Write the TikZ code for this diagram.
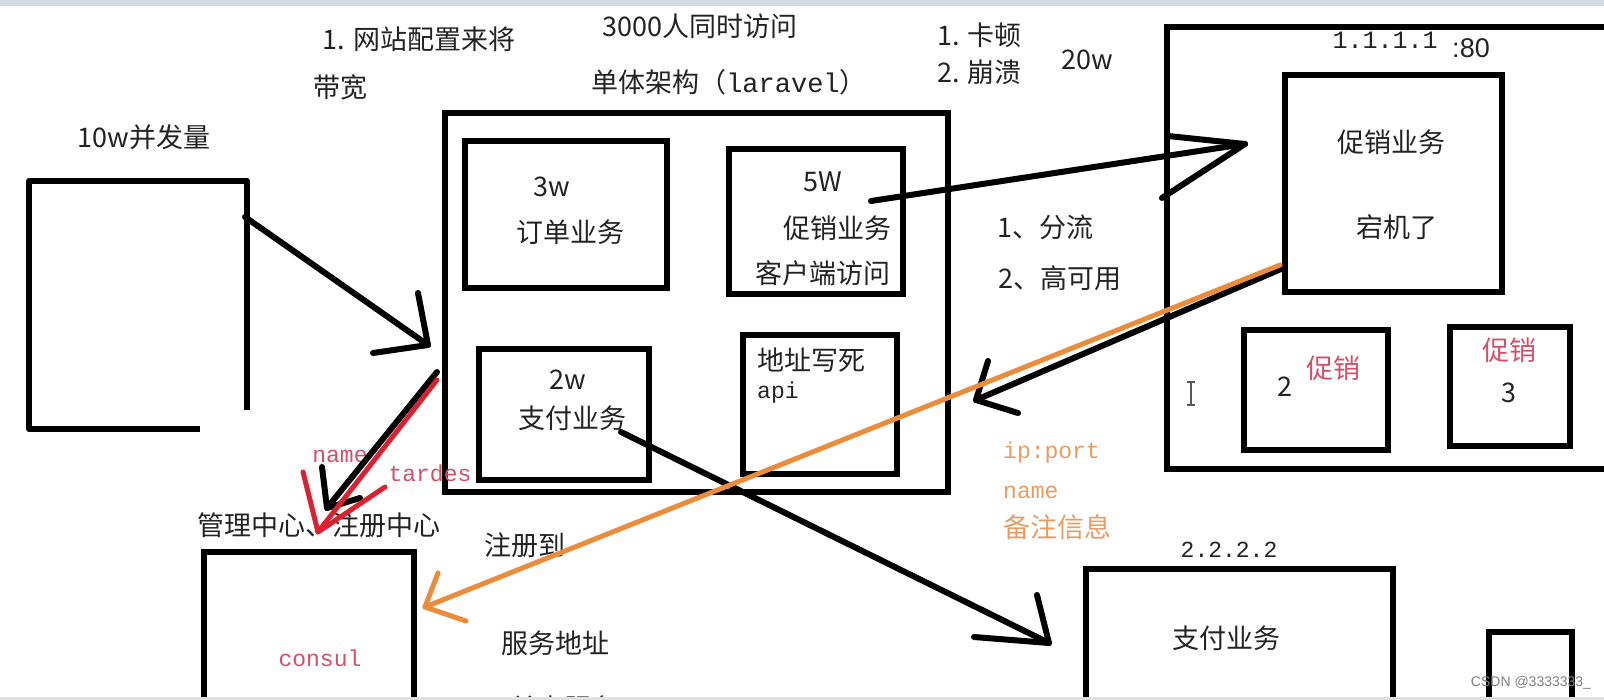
\documentclass[tikz,border=0pt]{standalone}
\usepackage{fontspec}
\setmainfont{Noto Sans CJK SC}
\newfontfamily\codefont{Liberation Mono}
\newfontfamily\arialfont{Liberation Sans}
\usepackage{xcolor}
\usepackage{tikz}

\definecolor{penorange}{RGB}{234,140,58}
\definecolor{penred}{RGB}{220,32,48}
\definecolor{notered}{RGB}{212,80,106}
\definecolor{noteorange}{RGB}{232,156,98}
\definecolor{barblue}{RGB}{214,220,230}
\definecolor{bargray}{RGB}{224,224,224}
\definecolor{ink}{RGB}{35,35,35}

\begin{document}
\begin{tikzpicture}[x=1pt, y=-1pt,
    box/.style 2 args={draw, line width=6pt, minimum width=#1, minimum height=#2, inner sep=0pt, outer sep=0pt},
    txt/.style={font=\fontsize{27}{30}\selectfont, text=ink, inner sep=0pt},
    code/.style={font=\codefont\fontsize{23}{28}\selectfont, text=ink, inner sep=0pt},
    pen/.style={line width=6pt, line cap=round, line join=round}]
    \useasboundingbox (0,0) rectangle (1604,700);
    \fill[white] (0,0) rectangle (1604,700);

    \begin{scope}
    \clip (0,6) rectangle (1604,697);

    % client, left side
    \draw[pen, line cap=butt] (200,429) -- (29,429) -- (29,181) -- (247,181) -- (247,410);
    \node[txt] (qps) at (144,137) {10w并发量};
    \node[txt] (note1) at (419,39) {1. 网站配置来将};
    \node[txt] (note2) at (340,87) {带宽};

    % monolith
    \node[txt] (title1) at (700,26) {3000人同时访问};
    \node[txt] (title2) at (729,82) {单体架构（{\codefont laravel}）};
    \node[box={503pt}{379pt}] (mono) at (696.5,302.5) {};
    \node[box={202pt}{147pt}] (order) at (566,214.5) {};
    \node[box={174pt}{145pt}] (promo) at (816,221.5) {};
    \node[box={170pt}{131pt}] (pay) at (564,414.5) {};
    \node[box={154pt}{139pt}] (api) at (820,404.5) {};
    \node[txt] (orderQ) at (552,187) {3w};
    \node[txt] (orderT) at (570,232) {订单业务};
    \node[txt] (promoQ) at (823,182) {5W};
    \node[txt] (promoT) at (837,228) {促销业务};
    \node[txt] (promoC) at (823,273) {客户端访问};
    \node[txt] (payQ) at (568,380) {2w};
    \node[txt] (payT) at (572,418) {支付业务};
    \node[txt, anchor=west] (apiT) at (757,360) {地址写死};
    \node[code, anchor=west] (apiC) at (757,393) {api};

    \node[txt, anchor=west] (lag1) at (937,35) {1. 卡顿};
    \node[txt, anchor=west] (lag2) at (937,72) {2. 崩溃};
    \node[txt] (load) at (1087,60) {20w};
    \node[txt] (split1) at (1045,227) {1、分流};
    \node[txt] (split2) at (1060,278) {2、高可用};

    % promo server 1.1.1.1
    \node[box={473pt}{442pt}] (server) at (1403.5,248) {};
    \node[code, font=\codefont\fontsize{25}{28}\selectfont] (ip1) at (1385,40) {1.1.1.1};
    \node[font=\arialfont\fontsize{27}{30}\selectfont, text=ink, inner sep=0pt] (port) at (1471,48) {:80};
    \node[box={217pt}{217pt}] (promoMain) at (1393.5,183.5) {};
    \node[txt] (promoMainT) at (1391,142) {促销业务};
    \node[txt] (down) at (1397,227) {宕机了};
    \node[box={144pt}{120pt}] (promo2) at (1316,390) {};
    \node[txt] (promo2N) at (1285,387) {2};
    \node[txt, text=notered] (promo2T) at (1333,368) {促销};
    \node[box={120pt}{119pt}] (promo3) at (1510,386.5) {};
    \node[txt, text=notered] (promo3T) at (1509,350) {促销};
    \node[txt] (promo3N) at (1509,393) {3};
    \draw[line width=1.2pt, gray!70!black] (1191,382) -- (1191,405) (1187,382) -- (1195,382) (1187,405) -- (1195,405);

    % registry notes
    \node[code, text=noteorange, anchor=west] (ipport) at (1003,453) {ip:port};
    \node[code, text=noteorange, anchor=west] (svcname) at (1003,492) {name};
    \node[txt, text=noteorange, anchor=west] (remark) at (1003,527) {备注信息};

    % pay server 2.2.2.2
    \node[code] (ip2) at (1229,550) {2.2.2.2};
    \node[box={307pt}{191pt}] (payServer) at (1239.5,664.5) {};
    \node[txt] (payServerT) at (1226,638) {支付业务};
    \node[box={83pt}{128pt}] (spare) at (1530.5,696) {};

    % consul
    \node[box={210pt}{208pt}] (consul) at (309,656) {};
    \node[code, text=notered] (consulT) at (320,658) {consul};
    \node[txt] (center) at (319,525) {管理中心、注册中心};
    \node[code, text=notered] (regName) at (340,456) {name};
    \node[code, text=notered] (regTags) at (430,473) {tardes};
    \node[txt] (regTo) at (525,545) {注册到};
    \node[txt] (addr) at (555,643) {服务地址};
    \node[txt, anchor=west] (single) at (468,708) {1、单点服务};

    % arrows
    \coordinate (clientOut) at (245,217);
    \coordinate (monoIn) at (428,345);
    \draw[pen] (clientOut) -- (monoIn);
    \draw[pen] (418,293) -- (monoIn) -- (373,353);

    \coordinate (promoOut) at (871,201);
    \coordinate (serverIn) at (1245,144);
    \draw[pen] (promoOut) -- (serverIn);
    \draw[pen] (1168,136) -- (serverIn) -- (1162,198);

    \coordinate (payOut) at (621,432);
    \coordinate (payIn) at (1049,643);
    \draw[pen] (payOut) -- (payIn);
    \draw[pen] (1037,595) -- (payIn) -- (974,637);

    \coordinate (downOut) at (1281,269);
    \coordinate (apiIn) at (976,400);
    \draw[pen] (downOut) -- (apiIn);
    \draw[pen] (988,361) -- (apiIn) -- (1018,413);

    \coordinate (monoOut) at (437,372);
    \coordinate (centerIn) at (327,508);
    \draw[pen] (monoOut) -- (centerIn);
    \draw[pen] (322,467) -- (centerIn) -- (360,498);

    \coordinate (monoOutR) at (437,380);
    \coordinate (centerInR) at (318,532);
    \draw[pen, penred, line width=5pt] (monoOutR) -- (centerInR);
    \draw[pen, penred, line width=5pt] (303,472) -- (centerInR) -- (385,487);

    \coordinate (downOutO) at (1280,265);
    \coordinate (consulIn) at (425,607);
    \draw[pen, penorange, line width=5pt] (downOutO) -- (consulIn);
    \draw[pen, penorange, line width=5pt] (438,573) -- (consulIn) -- (466,621);

    \node[font=\arialfont\fontsize{14}{16}\selectfont, text=gray, inner sep=0pt] (mark) at (1531,683) {CSDN @3333333\_};
    \end{scope}

    \fill[barblue] (0,0) rectangle (1604,6);
    \fill[bargray] (0,697) rectangle (1604,700);
\end{tikzpicture}
\end{document}
